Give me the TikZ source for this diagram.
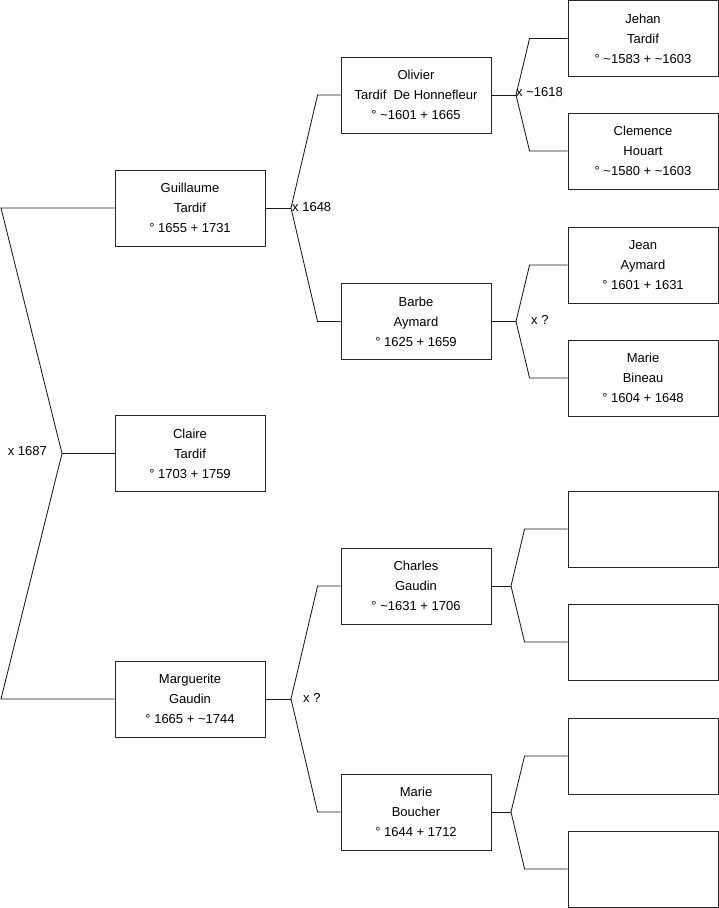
\documentclass[tikz,border=0pt]{standalone}
\usepackage{fontspec}
\setmainfont{Liberation Sans}
\usetikzlibrary{positioning,calc}
\tikzset{
  person/.style={draw=black!85, line width=0.85pt, minimum width=150pt, minimum height=76pt,
    inner sep=0pt, align=center, font=\fontsize{13}{20}\selectfont},
  link/.style={draw=black!90, line width=0.85pt},
  union/.style={inner sep=1pt, anchor=west, font=\fontsize{13}{14}\selectfont}
}
\newcommand{\tl}{\textasciitilde}

\begin{document}
\begin{tikzpicture}[x=1pt, y=-1pt]
    \useasboundingbox (0,0) rectangle (719,908);

    % generation 1
    \node[person] (guillaume) at (190,208) {Guillaume\\Tardif\\° 1655 + 1731};
    \node[person] (claire) at (190,453.5) {Claire\\Tardif\\° 1703 + 1759};
    \node[person] (marguerite) at (190,699) {Marguerite\\Gaudin\\° 1665 + \tl1744};

    % generation 2
    \node[person] (olivier) at (416,95) {Olivier\\Tardif \ De Honnefleur\\° \tl1601 + 1665};
    \node[person] (barbe) at (416,321.5) {Barbe\\Aymard\\° 1625 + 1659};
    \node[person] (charles) at (416,586) {Charles\\Gaudin\\° \tl1631 + 1706};
    \node[person] (boucher) at (416,812) {Marie\\Boucher\\° 1644 + 1712};

    % generation 3
    \node[person] (jehan) at (643,38.5) {Jehan\\Tardif\\° \tl1583 + \tl1603};
    \node[person] (clemence) at (643,151) {Clemence\\Houart\\° \tl1580 + \tl1603};
    \node[person] (jean) at (643,265) {Jean\\Aymard\\° 1601 + 1631};
    \node[person] (bineau) at (643,378) {Marie\\Bineau\\° 1604 + 1648};
    \node[person] (e1) at (643,529) {};
    \node[person] (e2) at (643,642) {};
    \node[person] (e3) at (643,756) {};
    \node[person] (e4) at (643,869) {};

    % root fork
    \coordinate (rt) at (1,208);
    \coordinate (rv) at (62,453.5);
    \coordinate (rb) at (1,699);
    \draw[link] (guillaume.west) -- (rt) -- (rv) -- (rb) -- (marguerite.west);
    \draw[link] (rv) -- (claire.west);
    \node[union, anchor=east] (u1) at (48,451) {x 1687};

    % Guillaume fork
    \coordinate (gv) at (291,208);
    \draw[link] (guillaume.east) -- (gv);
    \draw[link] (olivier.west) -- ++(-23,0) -- (gv) -- ($(barbe.west)+(-23,0)$) -- (barbe.west);
    \node[union] (u2) at (291,207) {x 1648};

    % Marguerite fork
    \coordinate (mv) at (291,699);
    \draw[link] (marguerite.east) -- (mv);
    \draw[link] (charles.west) -- ++(-23,0) -- (mv) -- ($(boucher.west)+(-23,0)$) -- (boucher.west);
    \node[union] (u3) at (302,698) {x ?};

    % Olivier fork
    \coordinate (ov) at (516,95);
    \draw[link] (olivier.east) -- (ov);
    \draw[link] (jehan.west) -- ++(-38,0) -- (ov) -- ($(clemence.west)+(-38,0)$) -- (clemence.west);
    \node[union] (u4) at (515,92) {x \tl1618};

    % Barbe fork
    \coordinate (bv) at (516,321.5);
    \draw[link] (barbe.east) -- (bv);
    \draw[link] (jean.west) -- ++(-38,0) -- (bv) -- ($(bineau.west)+(-38,0)$) -- (bineau.west);
    \node[union] (u5) at (530,320) {x ?};

    % Charles fork
    \coordinate (cv) at (511,586);
    \draw[link] (charles.east) -- (cv);
    \draw[link] (e1.west) -- ++(-43,0) -- (cv) -- ($(e2.west)+(-43,0)$) -- (e2.west);

    % Boucher fork
    \coordinate (mbv) at (511,812);
    \draw[link] (boucher.east) -- (mbv);
    \draw[link] (e3.west) -- ++(-43,0) -- (mbv) -- ($(e4.west)+(-43,0)$) -- (e4.west);

\end{tikzpicture}
\end{document}
